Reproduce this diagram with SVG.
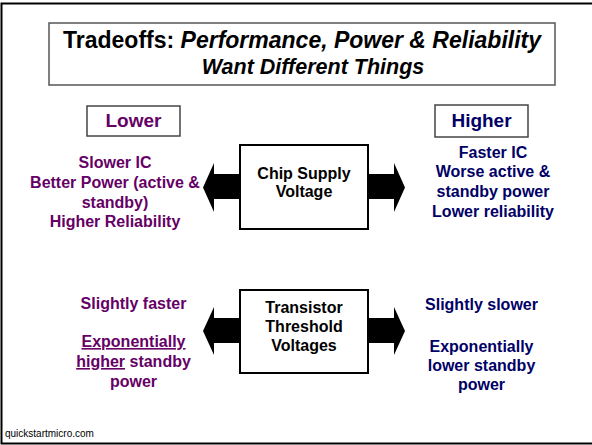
<svg xmlns="http://www.w3.org/2000/svg" width="592" height="445" viewBox="0 0 592 445">
  <style>
    text { font-family: "Liberation Sans", Arial, sans-serif; font-weight: bold; }
    .title { font-size: 23px; fill: #000; text-anchor: middle; }
    .it { font-style: italic; }
    .node { fill: #fff; stroke: #000; stroke-width: 2; }
    .nodetxt { font-size: 16px; fill: #000; text-anchor: middle; }
    .label { fill: #fff; stroke: #444; stroke-width: 1.5; }
    .lo { fill: #660066; text-anchor: middle; font-size: 16px; }
    .hi { fill: #000066; text-anchor: middle; font-size: 16px; }
    .head { font-size: 19px; }
    .arrow { fill: #000; }
    .foot { font-family: "Liberation Sans", Arial, sans-serif; font-weight: normal; font-size: 10px; fill: #000; }
  </style>

  <!-- slide frame -->
  <rect x="1.5" y="3.5" width="592" height="440" fill="#fff" stroke="#000" stroke-width="2"/>

  <!-- title -->
  <g id="title">
    <rect x="49" y="23" width="506" height="62" fill="#fff" stroke="#555" stroke-width="1.5"/>
    <text class="title" x="302" y="48">Tradeoffs: <tspan class="it">Performance, Power &amp; Reliability</tspan></text>
    <text class="title it" x="313" y="74" style="font-size:21.5px">Want Different Things</text>
  </g>

  <!-- column headings -->
  <g id="lower">
    <rect class="label" x="87" y="106" width="93" height="30"/>
    <text class="lo head" x="133.5" y="127">Lower</text>
  </g>
  <g id="higher">
    <rect class="label" x="435" y="105" width="93" height="32"/>
    <text class="hi head" x="481.5" y="127">Higher</text>
  </g>

  <!-- connectors: double block arrows from each node -->
  <g id="connectors">
    <polygon class="arrow" points="240,174 214,174 214,163 203,187.5 214,212 214,199 240,199"/>
    <polygon class="arrow" points="368,174 394,174 394,163 405,187.5 394,212 394,199 368,199"/>
    <polygon class="arrow" points="240,318 214,318 214,307 203,331 214,355 214,343 240,343"/>
    <polygon class="arrow" points="368,318 394,318 394,307 405,331 394,355 394,343 368,343"/>
  </g>

  <g id="chip-supply">
    <rect class="node" x="240" y="145" width="128" height="84"/>
    <text class="nodetxt" x="304" y="179">Chip Supply</text>
    <text class="nodetxt" x="304" y="197">Voltage</text>
  </g>

  <g id="threshold">
    <rect class="node" x="240" y="290" width="128" height="83"/>
    <text class="nodetxt" x="304" y="313">Transistor</text>
    <text class="nodetxt" x="304" y="332">Threshold</text>
    <text class="nodetxt" x="304" y="351">Voltages</text>
  </g>

  <!-- supply voltage effects -->
  <g id="supply-lower">
    <text class="lo" x="115" y="168">Slower IC</text>
    <text class="lo" x="115" y="188">Better Power (active &amp;</text>
    <text class="lo" x="115" y="208">standby)</text>
    <text class="lo" x="115" y="227">Higher Reliability</text>
  </g>
  <g id="supply-higher">
    <text class="hi" x="493" y="158">Faster IC</text>
    <text class="hi" x="493" y="177">Worse active &amp;</text>
    <text class="hi" x="493" y="197">standby power</text>
    <text class="hi" x="493" y="217">Lower reliability</text>
  </g>

  <!-- threshold voltage effects -->
  <g id="threshold-lower">
    <text class="lo" x="133.5" y="309">Slightly faster</text>
    <text class="lo" x="133.5" y="347" text-decoration="underline">Exponentially</text>
    <text class="lo" x="133.5" y="367"><tspan text-decoration="underline">higher</tspan> standby</text>
    <text class="lo" x="133.5" y="387">power</text>
  </g>
  <g id="threshold-higher">
    <text class="hi" x="481.5" y="310">Slightly slower</text>
    <text class="hi" x="481.5" y="352">Exponentially</text>
    <text class="hi" x="481.5" y="371">lower standby</text>
    <text class="hi" x="481.5" y="390">power</text>
  </g>

  <text class="foot" x="5" y="437">quickstartmicro.com</text>
</svg>
